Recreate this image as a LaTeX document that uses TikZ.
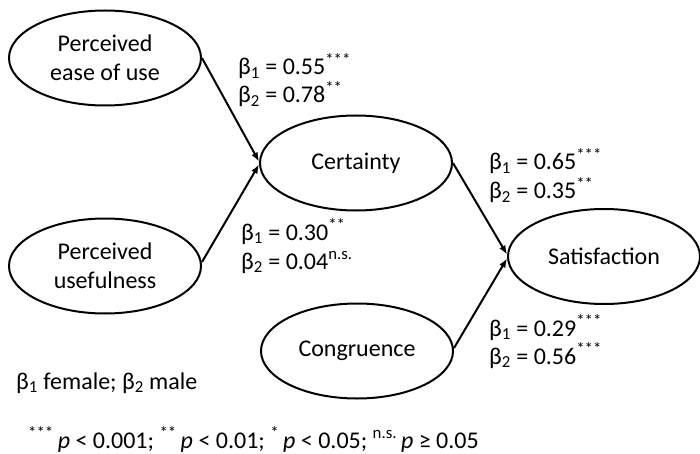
\documentclass[tikz,border=0pt]{standalone}
\usepackage{fontspec}
\setmainfont{Carlito}
\usetikzlibrary{shapes.geometric,arrows.meta}
\begin{document}
\begin{tikzpicture}[x=1pt,y=-1pt,
  construct/.style={draw,ellipse,line width=2pt,minimum width=192pt,minimum height=95pt,inner sep=0pt,align=center,font=\fontsize{24}{29}\selectfont},
  path/.style={line width=2pt,-{Latex[length=9pt,width=7pt]}},
  coef/.style={anchor=base west,inner sep=0pt,align=left,font=\fontsize{24}{29}\selectfont}]
\useasboundingbox (0,0) rectangle (700,454);
\node[construct] (peou) at (105,58) {Perceived\\ease of use};
\node[construct] (pu) at (105,266) {Perceived\\usefulness};
\node[construct] (cert) at (356,163) {Certainty};
\node[construct] (cong) at (357,351) {Congruence};
\node[construct] (sat) at (604,256.5) {Satisfaction};
\draw[path] (peou.east) -- ([yshift=1.5pt]cert.west);
\draw[path] ([yshift=4pt]pu.east) -- ([yshift=-1.5pt]cert.west);
\draw[path] (cert.east) -- ([yshift=2pt]sat.west);
\draw[path] ([yshift=3pt]cong.east) -- ([yshift=-2pt]sat.west);
\node[coef] (c1a) at (238,75) {β\textsubscript{1} = 0.55\textsuperscript{***}};
\node[coef] (c1b) at (238,103) {β\textsubscript{2} = 0.78\textsuperscript{**}};
\node[coef] (c2a) at (241,240) {β\textsubscript{1} = 0.30\textsuperscript{**}};
\node[coef] (c2b) at (241,269) {β\textsubscript{2} = 0.04\textsuperscript{n.s.}};
\node[coef] (c3a) at (489,170) {β\textsubscript{1} = 0.65\textsuperscript{***}};
\node[coef] (c3b) at (489,199) {β\textsubscript{2} = 0.35\textsuperscript{**}};
\node[coef] (c4a) at (489,336) {β\textsubscript{1} = 0.29\textsuperscript{***}};
\node[coef] (c4b) at (489,364) {β\textsubscript{2} = 0.56\textsuperscript{***}};
\node[coef] (legend) at (16,389) {β\textsubscript{1} female; β\textsubscript{2} male};
\node[coef] (pvals) at (28,448) {\textsuperscript{***}\,\textit{p} < 0.001; \textsuperscript{**}\,\textit{p} < 0.01; \textsuperscript{*}\,\textit{p} < 0.05; \textsuperscript{n.s.}\,\textit{p} ≥ 0.05};
\end{tikzpicture}
\end{document}
